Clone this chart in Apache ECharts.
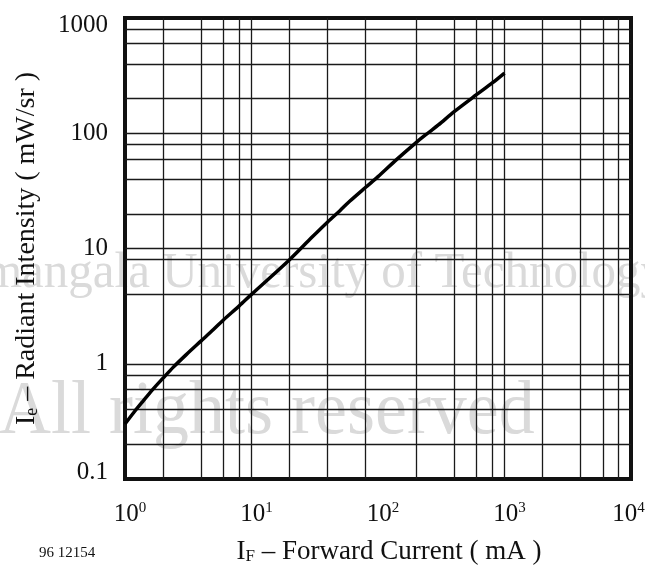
<!DOCTYPE html>
<html>
<head>
<meta charset="utf-8">
<script src="https://cdn.jsdelivr.net/npm/echarts@6/dist/echarts.min.js"></script>
<style>
  html, body { margin: 0; padding: 0; background: #fff; }
  #main { width: 645px; height: 565px; }
</style>
</head>
<body>
<div id="main"></div>
<script>
// forward current (mA) and radiant intensity (mW/sr)
const current = [1, 1.19, 1.38, 1.66, 2, 2.4, 3.05, 4, 5, 6, 8, 10, 20, 30, 40, 50, 60, 80, 100, 140, 200, 250, 300, 400, 600, 800, 1000];
const intensity = [0.30, 0.385, 0.47, 0.60, 0.75, 0.93, 1.2, 1.58, 1.98, 2.4, 3.18, 4.0, 8.0, 12.5, 17, 21.3, 25.8, 34, 42, 59, 83, 101, 118, 154, 216, 273, 333];

// grid lines as printed on the datasheet (not every minor value has one)
const gridX = [2, 4, 6, 8, 10, 20, 40, 80, 200, 400, 600, 800, 1000, 2000, 4000, 6000, 8000];
const gridY = [0.2, 0.4, 0.6, 0.8, 1, 4, 8, 10, 20, 40, 60, 80, 100, 200, 400, 600, 800];

// tick labels
const xExponents = ['0', '1', '2', '3', '4'];
const yLabels = ['0.1', '1', '10', '100', '1000'];

const serif = '"Liberation Serif", "Times New Roman", serif';
const ink = '#111';

const chart = echarts.init(document.getElementById('main'));

const option = {
    animation: false,
    backgroundColor: '#fff',
    grid: {
        left: 125, right: 14, top: 18, bottom: 86,
        show: true,
        borderColor: ink,
        borderWidth: 4,
        outerBoundsMode: 'none'
    },
    graphic: [
        {
            type: 'text', x: -16, y: 273, z: -10, silent: true, scaleY: 1.05,
            style: { text: 'mangala University of Technology', font: '49px ' + serif, fill: '#dadada', verticalAlign: 'middle' }
        },
        {
            type: 'text', x: -1, y: 413, z: -10, silent: true, scaleX: 0.935,
            style: { text: 'All rights reserved', font: '77px ' + serif, fill: '#dadada', verticalAlign: 'middle' }
        },
        {
            type: 'text', x: 39, y: 553, silent: true,
            style: { text: '96 12154', font: '15px ' + serif, fill: ink, verticalAlign: 'middle' }
        }
    ],
    xAxis: {
        type: 'log',
        logBase: 10,
        min: 1,
        max: 10000,
        axisLine: { show: false },
        axisTick: { show: false },
        splitLine: { show: false },
        axisLabel: {
            showMinLabel: true,
            showMaxLabel: true,
            margin: 22,
            padding: [0, 0, 0, 10],
            formatter: function (v) {
                const e = Math.round(Math.log10(v));
                const tail = e === xExponents.length - 1 ? '{g|}' : '';
                return '{b|10}{s|' + xExponents[e] + '}' + tail;
            },
            rich: {
                b: { fontFamily: serif, fontSize: 25, color: ink, lineHeight: 26 },
                s: { fontFamily: serif, fontSize: 15, color: ink, verticalAlign: 'top', lineHeight: 26, padding: [0, 0, 10, 0] },
                g: { width: 15, lineHeight: 26 }
            }
        },
        name: '{m|I}{sub|F}{m| – Forward Current ( mA )}',
        nameLocation: 'middle',
        nameGap: 59,
        nameTextStyle: {
            padding: [0, 0, 0, 22],
            rich: {
                m: { fontFamily: serif, fontSize: 27, color: ink },
                sub: { fontFamily: serif, fontSize: 17, color: ink, verticalAlign: 'bottom', padding: [8, 0, 0, 0] }
            }
        }
    },
    yAxis: {
        type: 'log',
        logBase: 10,
        min: 0.1,
        max: 1000,
        axisLine: { show: false },
        axisTick: { show: false },
        splitLine: { show: false },
        axisLabel: {
            showMinLabel: true,
            showMaxLabel: true,
            verticalAlignMaxLabel: 'top',
            verticalAlignMinLabel: 'bottom',
            lineHeight: 14,
            margin: 17,
            fontFamily: serif,
            fontSize: 25,
            color: ink,
            formatter: function (v) {
                return yLabels[Math.round(Math.log10(v)) + 1];
            }
        },
        name: '{m|I}{sub|e}{m| – Radiant Intensity ( mW/sr )}',
        nameLocation: 'middle',
        nameRotate: 90,
        nameGap: 84,
        nameTextStyle: {
            rich: {
                m: { fontFamily: serif, fontSize: 28, color: ink },
                sub: { fontFamily: serif, fontSize: 18, color: ink, verticalAlign: 'bottom', padding: [9, 0, 0, 0] }
            }
        }
    },
    series: [
        {
            type: 'line',
            data: current.map(function (c, i) { return [c, intensity[i]]; }),
            showSymbol: false,
            smooth: 0.3,
            lineStyle: { color: '#000', width: 3.5 },
            z: 5,
            markLine: {
                silent: true,
                symbol: ['none', 'none'],
                label: { show: false },
                emphasis: { disabled: true },
                lineStyle: { color: '#1a1a1a', width: 1.3, type: 'solid' },
                data: gridX.map(function (v) { return { xAxis: v }; })
                    .concat(gridY.map(function (v) { return { yAxis: v }; }))
            }
        }
    ]
};

chart.setOption(option);
</script>
</body>
</html>
